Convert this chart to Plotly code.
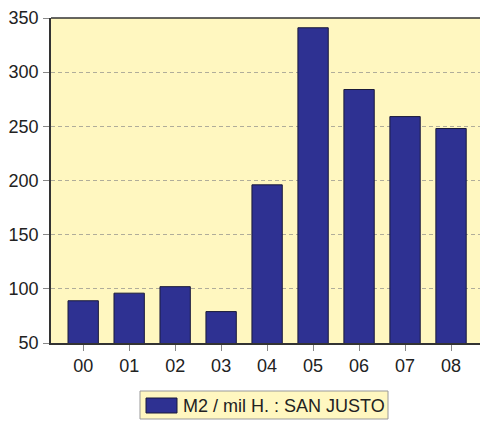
import plotly.graph_objects as go

years = ["00", "01", "02", "03", "04", "05", "06", "07", "08"]
values = [89, 96, 102, 79, 196, 341, 284, 259, 248]
series_name = "M2 / mil H. : SAN JUSTO"
y_ticks = [50, 100, 150, 200, 250, 300, 350]

BAR = "#2E3192"
BG = "#FFF7C0"

fig = go.Figure()
fig.add_trace(go.Bar(
    x=list(range(len(years))), y=values, name=series_name,
    marker=dict(color=BAR, line=dict(color="#1a1a3a", width=1)),
    width=0.66, showlegend=False,
))

W, H = 480, 421
ml, mr, mt, mb = 51, 0, 18, 78
pw, ph = W - ml - mr, H - mt - mb

def px2paper_x(px):
    return (px - ml) / pw

def px2paper_y(py):
    return (H - mb - py) / ph

fig.update_layout(
    width=W, height=H,
    margin=dict(l=ml, r=mr, t=mt, b=mb),
    paper_bgcolor="white", plot_bgcolor=BG,
    font=dict(family="Liberation Sans, Arial", size=18, color="#222"),
    showlegend=False,
    xaxis=dict(
        range=[-0.7, 8.63], tickmode="array",
        tickvals=list(range(len(years))), ticktext=years,
        ticks="outside", ticklen=6, tickcolor="#888",
        showgrid=False, showline=True, linecolor="#333", linewidth=1.5,
        zeroline=False, ticklabelstandoff=0,
    ),
    yaxis=dict(
        range=[50, 350], tickvals=y_ticks,
        ticks="outside", ticklen=6, tickcolor="#888",
        showgrid=True, gridcolor="#b0ad9a", griddash="4px,3px", gridwidth=1,
        showline=True, linecolor="#333", linewidth=1.5, zeroline=False,
        ticklabelstandoff=1,
    ),
)
# top border line
fig.add_shape(type="line", xref="paper", yref="paper", x0=0, x1=1, y0=1, y1=1,
              line=dict(color="#333", width=1.5))

# legend box (drawn below the plot)
fig.add_shape(type="rect", xref="paper", yref="paper",
              x0=px2paper_x(140), x1=px2paper_x(388),
              y0=px2paper_y(419), y1=px2paper_y(391),
              fillcolor=BG, line=dict(color="#999", width=1), layer="above")
fig.add_shape(type="rect", xref="paper", yref="paper",
              x0=px2paper_x(146), x1=px2paper_x(177),
              y0=px2paper_y(413), y1=px2paper_y(398),
              fillcolor=BAR, line=dict(color="#1a1a3a", width=1), layer="above")
fig.add_annotation(xref="paper", yref="paper", x=px2paper_x(181), y=px2paper_y(405.5),
                   text=series_name, showarrow=False, xanchor="left", yanchor="middle",
                   font=dict(size=18, color="#222"))

fig.write_html("out.html", config={"displayModeBar": False},
               post_script="document.body.style.margin='0';")
